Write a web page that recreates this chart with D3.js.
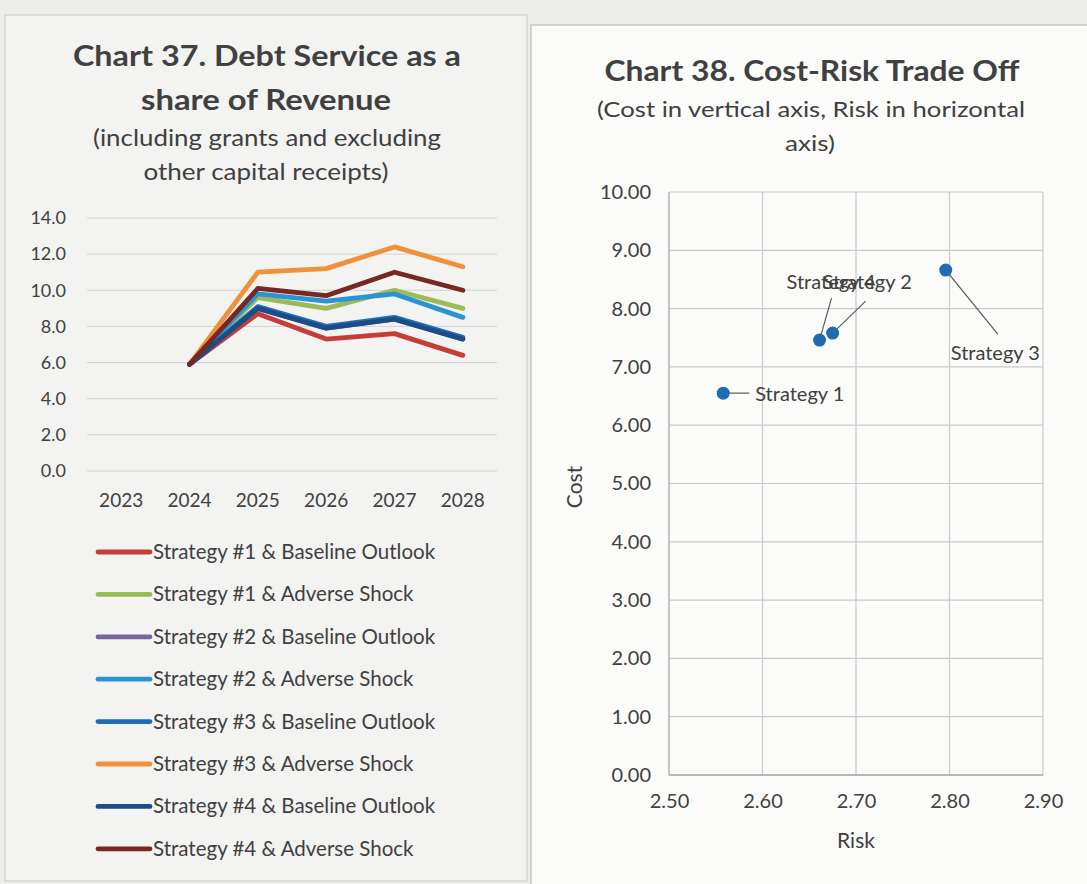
<!DOCTYPE html>
<html>
<head>
<meta charset="utf-8">
<script src="https://cdn.jsdelivr.net/npm/d3@7"></script>
<style>
  html, body { margin: 0; padding: 0; background: #ededeb; }
  svg { display: block; font-family: Lato, "Open Sans", sans-serif; }
</style>
</head>
<body>
<svg id="chart" width="1087" height="884"></svg>
<script>
// ---- Chart 37: debt service as a share of revenue ----
const years = ["2023", "2024", "2025", "2026", "2027", "2028"];
const debtTicks = [0, 2, 4, 6, 8, 10, 12, 14];
const seriesNames = [
  "Strategy #1 & Baseline Outlook",
  "Strategy #1 & Adverse Shock",
  "Strategy #2 & Baseline Outlook",
  "Strategy #2 & Adverse Shock",
  "Strategy #3 & Baseline Outlook",
  "Strategy #3 & Adverse Shock",
  "Strategy #4 & Baseline Outlook",
  "Strategy #4 & Adverse Shock"
];
const s1Baseline = [null, 5.9, 8.7, 7.3, 7.6, 6.4];
const s1Adverse  = [null, 5.9, 9.6, 9.0, 10.0, 9.0];
const s2Baseline = [null, 5.9, 9.0, 7.9, 8.4, 7.3];
const s2Adverse  = [null, 5.9, 9.8, 9.4, 9.8, 8.5];
const s3Baseline = [null, 5.9, 9.1, 8.0, 8.5, 7.4];
const s3Adverse  = [null, 5.9, 11.0, 11.2, 12.4, 11.3];
const s4Baseline = [null, 5.9, 9.0, 7.9, 8.4, 7.3];
const s4Adverse  = [null, 5.9, 10.1, 9.7, 11.0, 10.0];
const seriesColors = ["#c43d36", "#9bbb59", "#7564a4", "#2b93d3", "#1f6db5", "#f0913a", "#1b4c86", "#782822"];

// ---- Chart 38: cost-risk trade off ----
const strategies = ["Strategy 1", "Strategy 2", "Strategy 3", "Strategy 4"];
const riskValues = [2.558, 2.675, 2.796, 2.661];
const costValues = [6.55, 7.58, 8.66, 7.46];
const riskTicks = [2.5, 2.6, 2.7, 2.8, 2.9];
const costTicks = [0, 1, 2, 3, 4, 5, 6, 7, 8, 9, 10];

const svg = d3.select("#chart");
const textColor = "#404040";

// panels
svg.append("rect").attr("x", 5).attr("y", 15).attr("width", 522).attr("height", 866)
  .attr("fill", "#f3f3f2").attr("stroke", "#cfcfcd").attr("stroke-width", 1.2);
svg.append("rect").attr("x", 531).attr("y", 25).attr("width", 560).attr("height", 862)
  .attr("fill", "#fbfbfa").attr("stroke", "#bdbdbb").attr("stroke-width", 1.2);

function fitText(sel, x, y, str, size, weight, width) {
  return sel.append("text").attr("x", x).attr("y", y).attr("text-anchor", "middle")
    .attr("font-size", size).attr("font-weight", weight).attr("fill", textColor)
    .attr("textLength", width).attr("lengthAdjust", "spacingAndGlyphs").text(str);
}

// ---------- left chart ----------
const left = svg.append("g");
fitText(left, 267, 66, "Chart 37. Debt Service as a", 29, 700, 388);
fitText(left, 266, 110, "share of Revenue", 29, 700, 250);
fitText(left, 267, 146, "(including grants and excluding", 23, 400, 348);
fitText(left, 266, 180, "other capital receipts)", 23, 400, 245);

const x1 = d3.scaleBand().domain(years).range([87, 497]);
const y1 = d3.scaleLinear().domain([0, 14]).range([471, 218]);

const gGrid = left.append("g");
gGrid.selectAll("line").data(debtTicks).join("line")
  .attr("x1", 87).attr("x2", 497)
  .attr("y1", d => y1(d)).attr("y2", d => y1(d))
  .attr("stroke", "#d2d2d2").attr("stroke-width", 1);

const yAxis1 = d3.axisLeft(y1).tickValues(debtTicks).tickFormat(d3.format(".1f")).tickSize(0).tickPadding(0);
left.append("g").attr("transform", "translate(66,0)").call(yAxis1)
  .call(g => g.select(".domain").remove())
  .selectAll("text").attr("font-size", 18).attr("fill", textColor)
  .attr("font-family", "Lato, sans-serif");

const xAxis1 = d3.axisBottom(x1).tickSize(0).tickPadding(0);
left.append("g").attr("transform", "translate(0,493)").call(xAxis1)
  .call(g => g.select(".domain").remove())
  .selectAll("text").attr("font-size", 19).attr("fill", textColor)
  .attr("font-family", "Lato, sans-serif");

const allSeries = [s1Baseline, s1Adverse, s2Baseline, s2Adverse, s3Baseline, s3Adverse, s4Baseline, s4Adverse];
const line1 = d3.line()
  .defined(d => d.v !== null)
  .x(d => x1(d.year) + x1.bandwidth() / 2)
  .y(d => y1(d.v));

allSeries.forEach((vals, i) => {
  const pts = vals.map((v, j) => ({ year: years[j], v }));
  left.append("path").datum(pts)
    .attr("d", line1)
    .attr("fill", "none")
    .attr("stroke", seriesColors[i])
    .attr("stroke-width", 4.8)
    .attr("stroke-linejoin", "round")
    .attr("stroke-linecap", "round");
});

// legend
const legend = left.append("g");
seriesNames.forEach((name, i) => {
  const cy = 552 + i * 42.4;
  legend.append("line").attr("x1", 98).attr("x2", 150).attr("y1", cy).attr("y2", cy)
    .attr("stroke", seriesColors[i]).attr("stroke-width", 4.8).attr("stroke-linecap", "round");
  legend.append("text").attr("x", 153).attr("y", cy + 7)
    .attr("font-size", 20.5).attr("fill", textColor).text(name);
});

// ---------- right chart ----------
const right = svg.append("g");
fitText(right, 812, 81, "Chart 38. Cost-Risk Trade Off", 29, 700, 415);
fitText(right, 811, 117, "(Cost in vertical axis, Risk in horizontal", 21, 400, 428);
fitText(right, 810, 151, "axis)", 21, 400, 50);

const x2 = d3.scaleLinear().domain([2.5, 2.9]).range([669, 1043]);
const y2 = d3.scaleLinear().domain([0, 10]).range([775, 192]);

right.append("g").selectAll("line").data(costTicks).join("line")
  .attr("x1", 669).attr("x2", 1043)
  .attr("y1", d => y2(d)).attr("y2", d => y2(d))
  .attr("stroke", "#c9c9c9").attr("stroke-width", 1.2);
right.append("g").selectAll("line").data(riskTicks).join("line")
  .attr("x1", d => x2(d)).attr("x2", d => x2(d))
  .attr("y1", 192).attr("y2", 775)
  .attr("stroke", "#c9c9c9").attr("stroke-width", 1.2);
right.append("line").attr("x1", 669).attr("x2", 1043).attr("y1", 775).attr("y2", 775)
  .attr("stroke", "#a8a8a8").attr("stroke-width", 1.3);
right.append("line").attr("x1", 669).attr("x2", 669).attr("y1", 192).attr("y2", 775)
  .attr("stroke", "#b5b5b5").attr("stroke-width", 1.2);

const yAxis2 = d3.axisLeft(y2).tickValues(costTicks).tickFormat(d3.format(".2f")).tickSize(0).tickPadding(0);
right.append("g").attr("transform", "translate(651,0)").call(yAxis2)
  .call(g => g.select(".domain").remove())
  .selectAll("text").attr("font-size", 20).attr("fill", textColor)
  .attr("font-family", "Lato, sans-serif");

const xAxis2 = d3.axisBottom(x2).tickValues(riskTicks).tickFormat(d3.format(".2f")).tickSize(0).tickPadding(0);
right.append("g").attr("transform", "translate(0,794)").call(xAxis2)
  .call(g => g.select(".domain").remove())
  .selectAll("text").attr("font-size", 20).attr("fill", textColor)
  .attr("font-family", "Lato, sans-serif");

right.append("text").attr("x", 856).attr("y", 848).attr("text-anchor", "middle")
  .attr("font-size", 21).attr("fill", textColor).text("Risk");
right.append("text").attr("transform", "translate(582,487) rotate(-90)").attr("text-anchor", "middle")
  .attr("font-size", 21).attr("fill", textColor).text("Cost");

// data labels: offsets from each point to its label and leader line end
const labelOffsets = {
  "Strategy 1": { lx: 32, ly: 8, ax: 26, ay: 0 },
  "Strategy 2": { lx: -10, ly: -44, ax: 33, ay: -32 },
  "Strategy 3": { lx: 5, ly: 90, ax: 52, ay: 64 },
  "Strategy 4": { lx: -33, ly: -51, ax: 12, ay: -42 }
};

const pts2 = strategies.map((s, i) => ({ name: s, risk: riskValues[i], cost: costValues[i] }));
pts2.forEach(p => {
  const o = labelOffsets[p.name];
  const px = x2(p.risk), py = y2(p.cost);
  right.append("line").attr("x1", px).attr("y1", py).attr("x2", px + o.ax).attr("y2", py + o.ay)
    .attr("stroke", "#5a5a5a").attr("stroke-width", 1.2);
});
right.append("g").selectAll("circle").data(pts2).join("circle")
  .attr("cx", d => x2(d.risk)).attr("cy", d => y2(d.cost)).attr("r", 6.5)
  .attr("fill", "#1f6cb0");
pts2.forEach(p => {
  const o = labelOffsets[p.name];
  right.append("text").attr("x", x2(p.risk) + o.lx).attr("y", y2(p.cost) + o.ly)
    .attr("text-anchor", "start").attr("font-size", 20).attr("fill", textColor).text(p.name);
});
</script>
</body>
</html>
